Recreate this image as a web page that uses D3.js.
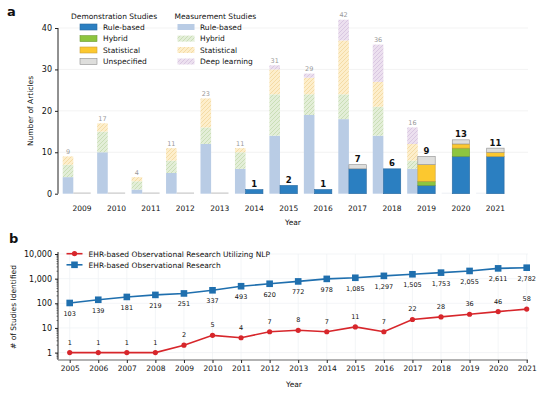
<!DOCTYPE html>
<html>
<head>
<meta charset="utf-8">
<script src="https://cdn.jsdelivr.net/npm/d3@7"></script>
<style>
  body { margin: 0; background: #fff; }
  text { font-family: "DejaVu Sans", sans-serif; }
</style>
</head>
<body>
<script>
// ---- panel a data ----
const years = [2009, 2010, 2011, 2012, 2013, 2014, 2015, 2016, 2017, 2018, 2019, 2020, 2021];
// measurement studies
const measRule   = [4, 10, 1, 5, 12, 6, 14, 19, 18, 14, 6, 0, 0];
const measHybrid = [3, 5, 2, 3, 4, 4, 10, 5, 6, 7, 2, 0, 0];
const measStat   = [2, 2, 1, 3, 7, 1, 6, 4, 13, 6, 4, 0, 0];
const measDL     = [0, 0, 0, 0, 0, 0, 1, 1, 5, 9, 4, 0, 0];
// demonstration studies
const demoRule   = [0, 0, 0, 0, 0, 1, 2, 1, 6, 6, 2, 9, 9];
const demoHybrid = [0, 0, 0, 0, 0, 0, 0, 0, 0, 0, 1, 2, 0];
const demoStat   = [0, 0, 0, 0, 0, 0, 0, 0, 0, 0, 4, 1, 1];
const demoUnspec = [0, 0, 0, 0, 0, 0, 0, 0, 1, 0, 2, 1, 1];

// ---- panel b data ----
const yearsB = [2005, 2006, 2007, 2008, 2009, 2010, 2011, 2012, 2013, 2014, 2015, 2016, 2017, 2018, 2019, 2020, 2021];
const nlpCounts = [1, 1, 1, 1, 2, 5, 4, 7, 8, 7, 11, 7, 22, 28, 36, 46, 58];
const ehrCounts = [103, 139, 181, 219, 251, 337, 493, 620, 772, 978, 1085, 1297, 1505, 1753, 2055, 2611, 2782];

const W = 555, H = 399;
const svg = d3.select("body").append("svg").attr("width", W).attr("height", H);

// hatch patterns
const defs = svg.append("defs");
function hatch(id, bg, line) {
  const p = defs.append("pattern").attr("id", id).attr("patternUnits", "userSpaceOnUse")
    .attr("width", 4).attr("height", 4);
  p.append("rect").attr("width", 4).attr("height", 4).attr("fill", bg);
  p.append("path").attr("d", "M-1,1 l2,-2 M0,4 l4,-4 M3,5 l2,-2")
    .attr("stroke", line).attr("stroke-width", 0.6);
}
hatch("hHybrid", "#e3eed8", "#b9d3a0");
hatch("hStat", "#fdeecb", "#efcf8c");
hatch("hDL", "#ece0ef", "#cdb7d6");

const measSeries = [
  { name: "Rule-based", vals: measRule, fill: "#b9cce5" },
  { name: "Hybrid", vals: measHybrid, fill: "url(#hHybrid)" },
  { name: "Statistical", vals: measStat, fill: "url(#hStat)" },
  { name: "Deep learning", vals: measDL, fill: "url(#hDL)" }
];
const demoSeries = [
  { name: "Rule-based", vals: demoRule, fill: "#2b7fc1", stroke: "#2a6aa0" },
  { name: "Hybrid", vals: demoHybrid, fill: "#8dc53e", stroke: "#6f9a36" },
  { name: "Statistical", vals: demoStat, fill: "#fcc82f", stroke: "#c9a03a" },
  { name: "Unspecified", vals: demoUnspec, fill: "#dededc", stroke: "#8e8e8e" }
];

// ================= panel a =================
const xA = d3.scaleLinear().domain([2009, 2021]).range([82, 495.4]);
const yA = d3.scaleLinear().domain([0, 40]).range([193.7, 28]);
const plotRight = 528;

const ga = svg.append("g");
// gridlines
ga.append("g").selectAll("line").data([10, 20, 30, 40]).join("line")
  .attr("x1", 58).attr("x2", plotRight)
  .attr("y1", d => yA(d)).attr("y2", d => yA(d))
  .attr("stroke", "#f0f0f0").attr("stroke-width", 0.8);

// measurement bars
years.forEach((yr, i) => {
  const x0 = xA(yr) - 19.3, w = 10.6;
  let cum = 0;
  measSeries.forEach(s => {
    const v = s.vals[i];
    if (v > 0) {
      ga.append("rect").attr("x", x0).attr("width", w)
        .attr("y", yA(cum + v)).attr("height", yA(cum) - yA(cum + v))
        .attr("fill", s.fill);
    }
    cum += v;
  });
  if (cum > 0) {
    ga.append("text").attr("x", x0 + w / 2).attr("y", yA(cum) - 2.5)
      .attr("text-anchor", "middle").attr("font-size", 6.5).attr("fill", "#999")
      .text(cum);
  } else {
    ga.append("line").attr("x1", x0).attr("x2", x0 + w)
      .attr("y1", yA(0) - 0.5).attr("y2", yA(0) - 0.5)
      .attr("stroke", "#eceff4").attr("stroke-width", 1);
  }
});

// demonstration bars
years.forEach((yr, i) => {
  const x0 = xA(yr) - 8.7, w = 17.4;
  let cum = 0;
  demoSeries.forEach(s => {
    const v = s.vals[i];
    if (v > 0) {
      ga.append("rect").attr("x", x0).attr("width", w)
        .attr("y", yA(cum + v)).attr("height", yA(cum) - yA(cum + v))
        .attr("fill", s.fill).attr("stroke", s.stroke).attr("stroke-width", 0.6);
    }
    cum += v;
  });
  if (cum > 0) {
    ga.append("text").attr("x", x0 + w / 2).attr("y", yA(cum) - 2.5)
      .attr("text-anchor", "middle").attr("font-size", 8.5).attr("font-weight", "bold")
      .attr("fill", "#111").text(cum);
  } else {
    ga.append("line").attr("x1", x0).attr("x2", x0 + w)
      .attr("y1", yA(0) - 0.6).attr("y2", yA(0) - 0.6)
      .attr("stroke", "#c8c8c8").attr("stroke-width", 1.2);
  }
});

// y axis a
const axA = ga.append("g").attr("transform", "translate(58,0)")
  .call(d3.axisLeft(yA).tickValues([0, 10, 20, 30, 40]).tickSize(3).tickPadding(3));
axA.select(".domain").attr("stroke", "#222").attr("stroke-width", 1).attr("d", `M0,${yA(0)}V${yA(40)}`);
axA.selectAll(".tick line").attr("stroke", "#222");
axA.selectAll("text").attr("font-size", 8).attr("fill", "#111").attr("font-family", "DejaVu Sans");

// year labels a
ga.append("g").selectAll("text").data(years).join("text")
  .attr("x", d => xA(d)).attr("y", 211)
  .attr("text-anchor", "middle").attr("font-size", 7.5).attr("fill", "#111")
  .text(d => d);
ga.append("text").attr("x", 293).attr("y", 225).attr("text-anchor", "middle")
  .attr("font-size", 7.5).attr("fill", "#111").text("Year");

ga.append("text").attr("transform", "translate(33,111) rotate(-90)")
  .attr("text-anchor", "middle").attr("font-size", 7.5).attr("fill", "#111")
  .text("Number of Articles");

// legend a
const legA = ga.append("g");
legA.append("text").attr("x", 71).attr("y", 18.5).attr("font-size", 7.5).attr("fill", "#111")
  .text("Demonstration Studies");
legA.append("text").attr("x", 174.5).attr("y", 18.5).attr("font-size", 7.5).attr("fill", "#111")
  .text("Measurement Studies");
const rowsY = [27, 38.6, 50, 61.5];
demoSeries.forEach((s, k) => {
  legA.append("rect").attr("x", 80).attr("y", rowsY[k] - 3).attr("width", 17).attr("height", 6)
    .attr("fill", s.fill).attr("stroke", s.stroke).attr("stroke-width", 0.6);
  legA.append("text").attr("x", 103).attr("y", rowsY[k] + 2.8).attr("font-size", 7.5)
    .attr("fill", "#111").text(s.name);
});
measSeries.forEach((s, k) => {
  legA.append("rect").attr("x", 177.5).attr("y", rowsY[k] - 3).attr("width", 17).attr("height", 6)
    .attr("fill", s.fill);
  legA.append("text").attr("x", 200).attr("y", rowsY[k] + 2.8).attr("font-size", 7.5)
    .attr("fill", "#111").text(s.name);
});

svg.append("text").attr("x", 7).attr("y", 16).attr("font-size", 13).attr("font-weight", "bold")
  .attr("fill", "#111").text("a");

// ================= panel b =================
const gb = svg.append("g");
const xB = d3.scaleLinear().domain([2005, 2021]).range([69.7, 526.7]);
const yB = d3.scaleLog().domain([0.5, 10000]).range([360, 254]);

// grid
gb.append("g").selectAll("line").data(yearsB).join("line")
  .attr("x1", d => xB(d)).attr("x2", d => xB(d)).attr("y1", 254).attr("y2", 360)
  .attr("stroke", "#eef0f3").attr("stroke-width", 0.7);
gb.append("g").selectAll("line").data([1, 10, 100, 1000, 10000]).join("line")
  .attr("x1", 58).attr("x2", 528).attr("y1", d => yB(d)).attr("y2", d => yB(d))
  .attr("stroke", "#eef0f3").attr("stroke-width", 0.7);

// y axis b
const fmt = d3.format(",");
const axB = gb.append("g").attr("transform", "translate(58,0)")
  .call(d3.axisLeft(yB).tickValues([1, 10, 100, 1000, 10000]).tickFormat(fmt).tickSize(3).tickPadding(3));
axB.select(".domain").attr("stroke", "#222").attr("d", "M0,360V252");
axB.selectAll(".tick line").attr("stroke", "#222");
axB.selectAll("text").attr("font-size", 8).attr("fill", "#111").attr("font-family", "DejaVu Sans");
// minor ticks
const minor = [];
[1, 10, 100, 1000].forEach(b => { for (let m = 2; m <= 9; m++) minor.push(b * m); });
[0.6, 0.7, 0.8, 0.9].forEach(v => minor.push(v));
gb.append("g").selectAll("line").data(minor).join("line")
  .attr("x1", 56.5).attr("x2", 58).attr("y1", d => yB(d)).attr("y2", d => yB(d))
  .attr("stroke", "#222").attr("stroke-width", 0.6);

// x axis b
const axXB = gb.append("g").attr("transform", "translate(0,360)")
  .call(d3.axisBottom(xB).tickValues(yearsB).tickFormat(d3.format("d")).tickSize(3).tickPadding(3));
axXB.select(".domain").attr("stroke", "#999").attr("stroke-width", 1.6).attr("d", "M58,0H528");
axXB.selectAll(".tick line").attr("stroke", "#222");
axXB.selectAll("text").attr("font-size", 7.5).attr("fill", "#111").attr("font-family", "DejaVu Sans");

gb.append("text").attr("x", 294).attr("y", 387).attr("text-anchor", "middle")
  .attr("font-size", 7.5).attr("fill", "#111").text("Year");
gb.append("text").attr("transform", "translate(16,307) rotate(-90)")
  .attr("text-anchor", "middle").attr("font-size", 7.5).attr("fill", "#111")
  .text("# of Studies Identified");

const red = "#d7262b", blue = "#1f6fae";
const line = d3.line().x((d, i) => xB(yearsB[i])).y(d => yB(d));

gb.append("path").datum(ehrCounts).attr("d", line).attr("fill", "none")
  .attr("stroke", blue).attr("stroke-width", 1.6);
gb.append("g").selectAll("rect").data(ehrCounts).join("rect")
  .attr("x", (d, i) => xB(yearsB[i]) - 3.3).attr("y", d => yB(d) - 3.3)
  .attr("width", 6.6).attr("height", 6.6).attr("fill", blue);
gb.append("g").selectAll("text").data(ehrCounts).join("text")
  .attr("x", (d, i) => xB(yearsB[i])).attr("y", d => yB(d) + 13)
  .attr("text-anchor", "middle").attr("font-size", 6.5).attr("fill", "#111")
  .text(d => fmt(d));

gb.append("path").datum(nlpCounts).attr("d", line).attr("fill", "none")
  .attr("stroke", red).attr("stroke-width", 1.6);
gb.append("g").selectAll("circle").data(nlpCounts).join("circle")
  .attr("cx", (d, i) => xB(yearsB[i])).attr("cy", d => yB(d)).attr("r", 2.6).attr("fill", red);
gb.append("g").selectAll("text").data(nlpCounts).join("text")
  .attr("x", (d, i) => xB(yearsB[i])).attr("y", d => yB(d) - 8)
  .attr("text-anchor", "middle").attr("font-size", 6.5).attr("fill", "#111")
  .text(d => fmt(d));

// legend b
const legB = gb.append("g");
legB.append("line").attr("x1", 66.5).attr("x2", 82.5).attr("y1", 253.7).attr("y2", 253.7)
  .attr("stroke", red).attr("stroke-width", 1.6);
legB.append("circle").attr("cx", 74.5).attr("cy", 253.7).attr("r", 2.6).attr("fill", red);
legB.append("text").attr("x", 88.5).attr("y", 256.5).attr("font-size", 7.5).attr("fill", "#111")
  .text("EHR-based Observational Research Utilizing NLP");
legB.append("line").attr("x1", 66.5).attr("x2", 82.5).attr("y1", 264.8).attr("y2", 264.8)
  .attr("stroke", blue).attr("stroke-width", 1.6);
legB.append("rect").attr("x", 71.2).attr("y", 261.5).attr("width", 6.6).attr("height", 6.6).attr("fill", blue);
legB.append("text").attr("x", 88.5).attr("y", 267.6).attr("font-size", 7.5).attr("fill", "#111")
  .text("EHR-based Observational Research");

svg.append("text").attr("x", 9).attr("y", 243).attr("font-size", 13).attr("font-weight", "bold")
  .attr("fill", "#111").text("b");
</script>
</body>
</html>
